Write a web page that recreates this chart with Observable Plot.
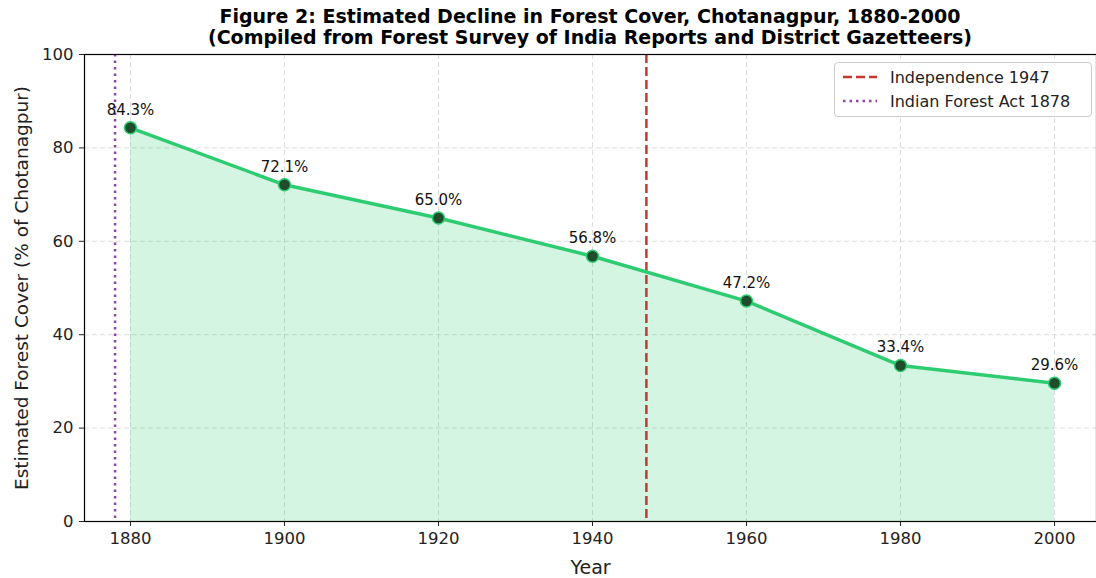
<!DOCTYPE html>
<html>
<head>
<meta charset="utf-8">
<script src="https://cdn.jsdelivr.net/npm/d3@7"></script>
<script src="https://cdn.jsdelivr.net/npm/@observablehq/plot@0.6"></script>
<style>
  body { margin: 0; background: #fff; font-family: "DejaVu Sans", sans-serif; overflow: hidden; }
  #wrap { position: relative; width: 1096px; height: 578px; overflow: hidden; }
  #title { position: absolute; z-index: 2; left: 84px; width: 1012px; top: 6px; text-align: center; font-weight: bold; font-size: 19px; line-height: 21px; color: #000; }
  #chart { position: absolute; left: 0; top: 40px; z-index: 1; }
  #legend { position: absolute; z-index: 3; left: 834px; top: 62px; width: 256px; height: 53px; border: 1px solid #ccc; border-radius: 4px; background: rgba(255,255,255,0.85); font-size: 16px; color: #222; }
  #legend .row { position: absolute; left: 7px; height: 22px; display: flex; align-items: center; }
  #legend .row span { margin-left: 12px; }
</style>
</head>
<body>
<div id="wrap">
  <div id="title">Figure 2: Estimated Decline in Forest Cover, Chotanagpur, 1880-2000<br>(Compiled from Forest Survey of India Reports and District Gazetteers)</div>
  <div id="chart"></div>
  <div id="legend"></div>
</div>
<script>
const years = [1880, 1900, 1920, 1940, 1960, 1980, 2000];
const forestCover = [84.3, 72.1, 65.0, 56.8, 47.2, 33.4, 29.6];
const xTicks = [1880, 1900, 1920, 1940, 1960, 1980, 2000];
const yTicks = [0, 20, 40, 60, 80, 100];
const eventYears = [1947, 1878];
const eventLabels = ["Independence 1947", "Indian Forest Act 1878"];

const data = years.map((y, i) => ({year: y, value: forestCover[i]}));
const redColor = "#c8372d", purpleColor = "#8e44ad";
const redDash = "9,4", purpleDash = "2.5,4";

const chart = Plot.plot({
  width: 1096,
  height: 538,
  marginLeft: 84,
  marginRight: 0,
  marginTop: 14,
  marginBottom: 57,
  style: {fontFamily: "DejaVu Sans, sans-serif", fontSize: "16.5px", color: "#222", background: "transparent", overflow: "visible"},
  x: {domain: [1874.03, 2005.45], ticks: xTicks, tickFormat: d => String(d), label: null},
  y: {domain: [0, 100], ticks: yTicks, label: null},
  marks: [
    Plot.gridX(xTicks, {stroke: "#bbb", strokeOpacity: 0.5, strokeDasharray: "5,3"}),
    Plot.gridY(yTicks, {stroke: "#bbb", strokeOpacity: 0.5, strokeDasharray: "5,3"}),
    Plot.areaY(data, {x: "year", y: "value", fill: "#2ecc71", fillOpacity: 0.2}),
    Plot.ruleX([eventYears[0]], {stroke: redColor, strokeWidth: 2.5, strokeDasharray: redDash}),
    Plot.ruleX([eventYears[1]], {stroke: purpleColor, strokeWidth: 2.5, strokeDasharray: purpleDash}),
    Plot.lineY(data, {x: "year", y: "value", stroke: "#2ecc71", strokeWidth: 3.5}),
    Plot.dot(data, {x: "year", y: "value", r: 6, fill: "#1d4d2b", stroke: "#2ecc71", strokeWidth: 1.5}),
    Plot.text(data, {x: "year", y: "value", text: d => d.value.toFixed(1) + "%", dy: -18, fontSize: 15, fill: "#111"}),
    Plot.frame({stroke: "#000", strokeWidth: 1.2}),
    Plot.axisX({ticks: xTicks, tickFormat: d => String(d), tickSize: 5, tickPadding: 6, fontSize: 16.5, label: "Year", labelAnchor: "center", labelArrow: "none", labelOffset: 52}),
    Plot.axisY({ticks: yTicks, tickSize: 5, tickPadding: 6, fontSize: 16.5, label: "Estimated Forest Cover (% of Chotanagpur)", labelAnchor: "center", labelArrow: "none", labelOffset: 70})
  ]
});
document.getElementById("chart").appendChild(chart);

d3.select(chart).selectAll("g[aria-label='x-axis label'] text").style("font-size", "19px");
d3.select(chart).selectAll("g[aria-label='y-axis label'] text").style("font-size", "18.5px");

const legend = d3.select("#legend");
[[redColor, redDash], [purpleColor, purpleDash]].forEach(([c, dash], i) => {
  const row = legend.append("div").attr("class", "row").style("top", (i === 0 ? 3 : 27) + "px");
  const s = row.append("svg").attr("width", 36).attr("height", 10);
  s.append("line").attr("x1", 1).attr("x2", 35).attr("y1", 5).attr("y2", 5)
    .attr("stroke", c).attr("stroke-width", 2.5).attr("stroke-dasharray", dash);
  row.append("span").text(eventLabels[i]);
});
</script>
</body>
</html>
